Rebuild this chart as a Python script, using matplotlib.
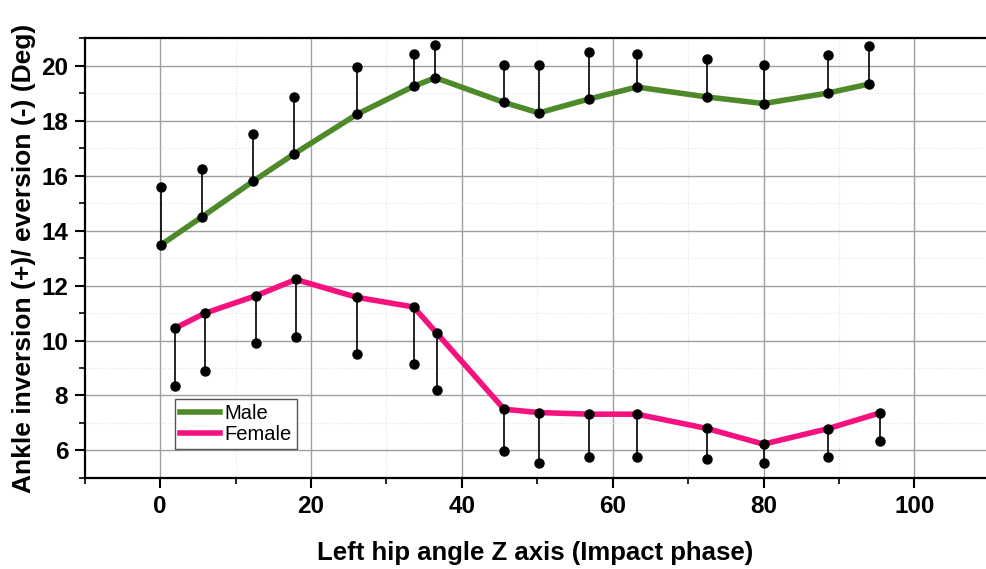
import numpy as np
import matplotlib.pyplot as plt
from matplotlib.ticker import MultipleLocator

plt.rcParams['font.family'] = ['Liberation Sans', 'DejaVu Sans']

# Male: hip angle, mean, mean + SD
male_x = [0.1, 5.6, 12.3, 17.7, 26.1, 33.6, 36.5, 45.6, 50.2, 56.9, 63.2, 72.5, 80.0, 88.5, 94.0]
male_mean = [13.48, 14.51, 15.79, 16.78, 18.23, 19.25, 19.56, 18.66, 18.28, 18.79, 19.22, 18.86, 18.62, 19.00, 19.33]
male_upper = [15.60, 16.24, 17.51, 18.86, 19.95, 20.44, 20.74, 20.04, 20.01, 20.51, 20.41, 20.24, 20.01, 20.39, 20.73]

# Female: hip angle, mean, mean - SD
female_x = [1.9, 5.9, 12.7, 18.0, 26.1, 33.6, 36.7, 45.6, 50.2, 56.9, 63.2, 72.5, 80.0, 88.5, 95.5]
female_mean = [10.44, 10.99, 11.63, 12.22, 11.57, 11.22, 10.26, 7.50, 7.38, 7.32, 7.32, 6.80, 6.23, 6.79, 7.37]
female_lower = [8.35, 8.90, 9.91, 10.12, 9.50, 9.14, 8.20, 5.97, 5.56, 5.76, 5.76, 5.68, 5.53, 5.76, 6.34]

fig = plt.figure(figsize=(9.86, 5.69), dpi=100)
ax = fig.add_axes([0.086, 0.160, 0.914, 0.773])

# error whiskers
ax.vlines(male_x, male_mean, male_upper, color='black', lw=1.2, zorder=3)
ax.vlines(female_x, female_lower, female_mean, color='black', lw=1.2, zorder=3)

ax.plot(male_x, male_mean, color='#4f8a2a', lw=4, label='Male', zorder=2)
ax.plot(female_x, female_mean, color='#f5127f', lw=4, label='Female', zorder=2)

for xs, ys in [(male_x, male_mean), (male_x, male_upper),
               (female_x, female_mean), (female_x, female_lower)]:
    ax.plot(xs, ys, 'o', color='black', ms=6.5, zorder=4)

ax.set_xlim(-10, 109.5)
ax.set_ylim(5, 21)
ax.xaxis.set_major_locator(MultipleLocator(20))
ax.xaxis.set_minor_locator(MultipleLocator(10))
ax.yaxis.set_major_locator(MultipleLocator(2))
ax.yaxis.set_minor_locator(MultipleLocator(1))

ax.grid(which='major', color='#a0a0a0', lw=1.0)
ax.grid(which='minor', color='#e2e2e2', lw=0.8, ls=':')
ax.set_axisbelow(True)

ax.spines['right'].set_visible(False)
for s in ['left', 'bottom', 'top']:
    ax.spines[s].set_linewidth(1.6)
ax.tick_params(which='major', direction='out', length=7, width=1.5, pad=5)
ax.tick_params(which='minor', direction='out', length=4, width=1.2)
plt.setp(ax.get_xticklabels() + ax.get_yticklabels(), fontsize=17.5, fontweight='bold')

ax.set_xlabel('Left hip angle Z axis (Impact phase)', fontsize=18.5, fontweight='bold', labelpad=17)
ax.set_ylabel('Ankle inversion (+)/ eversion (-) (Deg)', fontsize=19, fontweight='bold', labelpad=4)

leg = ax.legend(loc='lower left', bbox_to_anchor=(0.10, 0.066), fontsize=14.5, handlelength=2.0,
                handletextpad=0.2, borderpad=0.25, labelspacing=0.1, fancybox=False,
                edgecolor='#555555', framealpha=1, borderaxespad=0)
leg.get_frame().set_linewidth(1.0)

fig.savefig('out.png', dpi=100)
